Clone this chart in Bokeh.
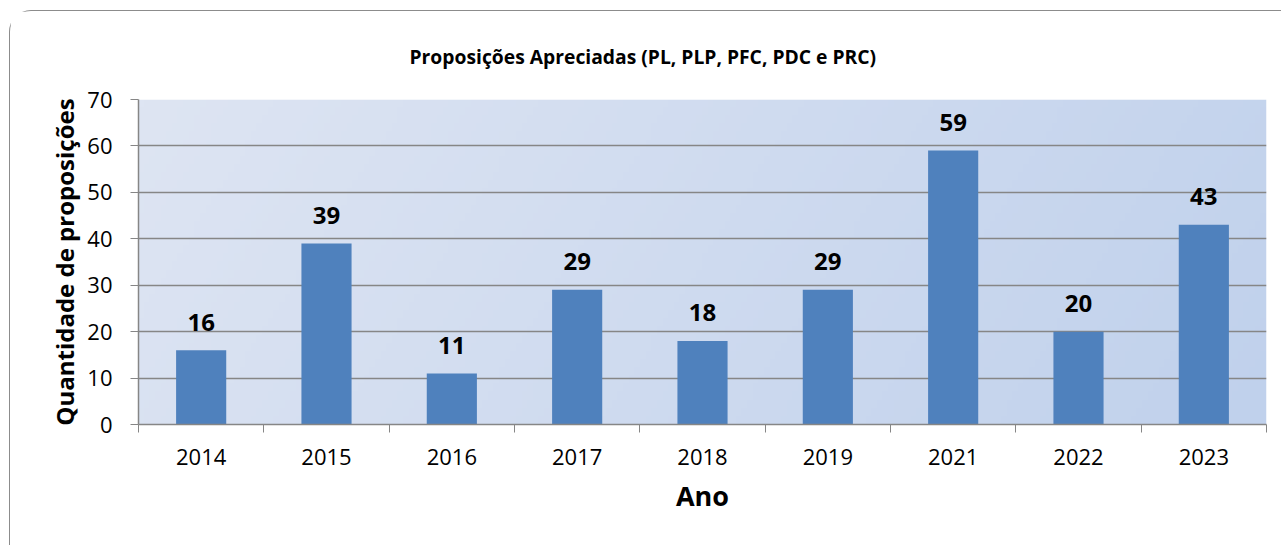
import numpy as np
from bokeh.plotting import figure
from bokeh.models import Range1d, FixedTicker, ColumnDataSource
from bokeh.core.properties import value
from bokeh.embed import file_html
from bokeh.resources import INLINE

years = ["2014", "2015", "2016", "2017", "2018", "2019", "2021", "2022", "2023"]
counts = [16, 39, 11, 29, 18, 29, 59, 20, 43]
y_ticks = [0, 10, 20, 30, 40, 50, 60, 70]
title_text = "Proposições Apreciadas (PL, PLP, PFC, PDC e PRC)"
x_title = "Ano"
y_title = "Quantidade de proposições"

n = len(years)
centers = [i + 0.5 for i in range(n)]
ymax = y_ticks[-1]

FONT = "Open Sans"
GRAY = "#868686"

p = figure(width=1272, height=535, output_backend="svg", toolbar_location=None,
           x_range=Range1d(0, n), y_range=Range1d(0, ymax),
           min_border_left=128, min_border_right=16, min_border_top=88, min_border_bottom=122)
p.background_fill_color = "white"
p.border_fill_color = "white"
p.outline_line_color = None
p.styles = {"margin-left": "9px", "margin-top": "10px",
            "border-top": "1.5px solid #8c8c8c", "border-left": "1.5px solid #8c8c8c",
            "border-top-left-radius": "22px"}

# gradient background for the plot area
H, W = 40, 200
xs = np.linspace(0, 1, W)[None, :]
ys = np.linspace(0, 1, H)[:, None]
t = np.clip(0.85 * xs + 0.15 * (1 - ys), 0, 1)
c0 = np.array([222, 229, 243])
c1 = np.array([192, 209, 236])
img = np.zeros((H, W), dtype=np.uint32)
view = img.view(dtype=np.uint8).reshape((H, W, 4))
for k in range(3):
    view[:, :, k] = (c0[k] + (c1[k] - c0[k]) * t).astype(np.uint8)
view[:, :, 3] = 255
p.image_rgba(image=[img], x=0, y=0, dw=n, dh=ymax, level="image")

src = ColumnDataSource(dict(x=centers, top=counts, lab=[str(c) for c in counts]))
p.vbar(x="x", top="top", width=0.4, source=src, fill_color="#4F81BD", line_color=None)
p.text(x="x", y="top", text="lab", source=src, text_align="center", text_baseline="alphabetic",
       y_offset=-28, text_font=value(FONT), text_font_style="bold", text_font_size="24px",
       text_color="black")

# grid
p.xgrid.visible = False
p.ygrid.ticker = FixedTicker(ticks=y_ticks)
p.ygrid.grid_line_color = GRAY
p.ygrid.grid_line_width = 1.3
p.ygrid.level = "underlay"

# y axis
p.yaxis.ticker = FixedTicker(ticks=y_ticks)
p.yaxis.axis_line_color = GRAY
p.yaxis.axis_line_width = 1.5
p.yaxis.major_tick_line_color = GRAY
p.yaxis.major_tick_out = 8
p.yaxis.major_tick_in = 0
p.yaxis.minor_tick_line_color = None
p.yaxis.major_label_text_font = FONT
p.yaxis.major_label_text_font_size = "22px"
p.yaxis.major_label_text_color = "black"
p.yaxis.major_label_standoff = 18
p.yaxis.axis_label = y_title
p.yaxis.axis_label_text_font = FONT
p.yaxis.axis_label_text_font_style = "bold"
p.yaxis.axis_label_text_font_size = "24px"
p.yaxis.axis_label_text_color = "black"
p.yaxis.axis_label_standoff = 3

# x axis: labels at centers, tick marks at boundaries
p.xaxis.ticker = FixedTicker(ticks=centers, minor_ticks=list(range(n + 1)))
p.xaxis.major_label_overrides = {c: y for c, y in zip(centers, years)}
p.xaxis.axis_line_color = GRAY
p.xaxis.axis_line_width = 1.5
p.xaxis.major_tick_line_color = None
p.xaxis.major_tick_out = 8
p.xaxis.major_tick_in = 0
p.xaxis.minor_tick_line_color = GRAY
p.xaxis.minor_tick_out = 8
p.xaxis.minor_tick_in = 0
p.xaxis.major_label_text_font = FONT
p.xaxis.major_label_text_font_size = "22px"
p.xaxis.major_label_text_color = "black"
p.xaxis.major_label_standoff = 16
p.xaxis.axis_label = x_title
p.xaxis.axis_label_text_font = FONT
p.xaxis.axis_label_text_font_style = "bold"
p.xaxis.axis_label_text_font_size = "27px"
p.xaxis.axis_label_text_color = "black"
p.xaxis.axis_label_standoff = 9

p.title.text = title_text
p.title.align = "left"
p.title.offset = 271
p.title.text_font = FONT
p.title.text_font_style = "bold"
p.title.text_font_size = "19.3px"
p.title.text_color = "black"
p.title.standoff = 59

open("out.html", "w").write(file_html(p, INLINE))
